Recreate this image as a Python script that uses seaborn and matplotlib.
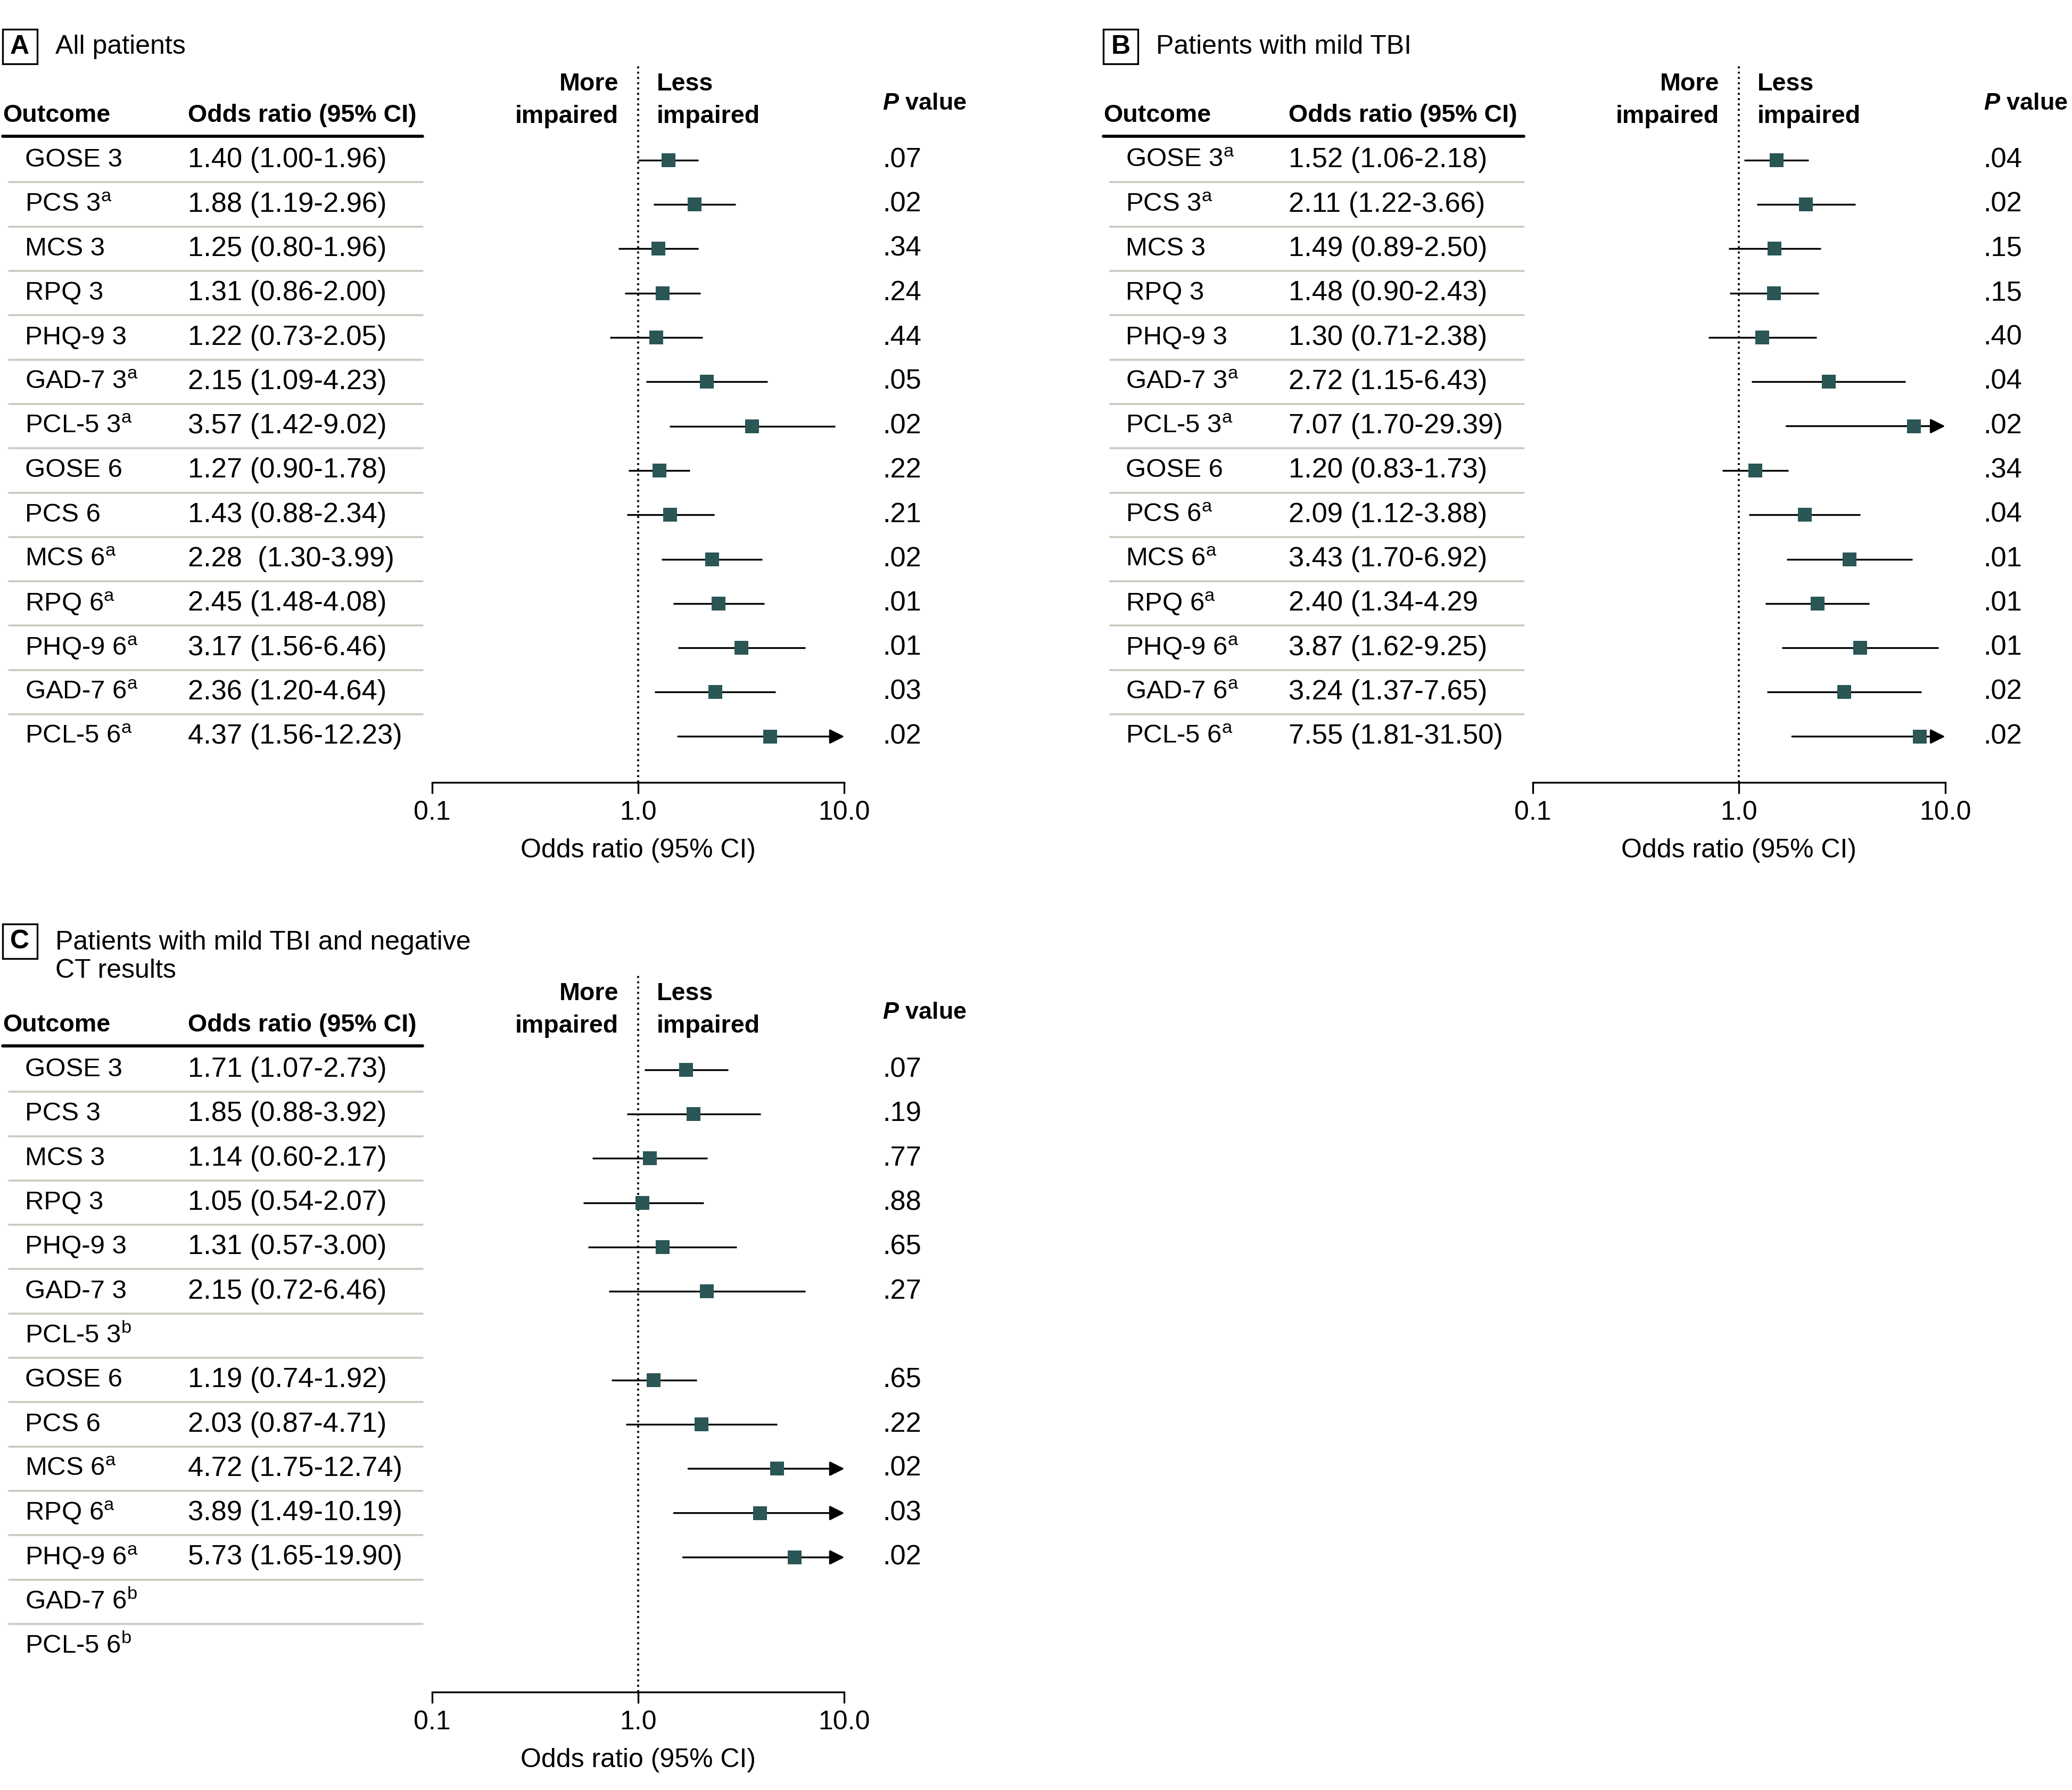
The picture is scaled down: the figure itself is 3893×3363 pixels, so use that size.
import numpy as np
import seaborn as sns
import matplotlib.pyplot as plt
from matplotlib.lines import Line2D
from matplotlib.patches import Rectangle
from matplotlib.transforms import blended_transform_factory

sns.set_style('white')
plt.rcParams['font.family'] = ['Liberation Sans', 'DejaVu Sans']
plt.rcParams['mathtext.fontset'] = 'custom'
plt.rcParams['mathtext.rm'] = 'Liberation Sans'
plt.rcParams['mathtext.it'] = 'Liberation Sans:italic:bold'
plt.rcParams['mathtext.bf'] = 'Liberation Sans:bold'
plt.rcParams['text.color'] = 'black'
plt.rcParams['xtick.color'] = 'black'
plt.rcParams['axes.labelcolor'] = 'black'

SA = r'$^\mathregular{a}$'
SB = r'$^\mathregular{b}$'

# ---- data ----
labels_a = ['GOSE 3', 'PCS 3' + SA, 'MCS 3', 'RPQ 3', 'PHQ-9 3', 'GAD-7 3' + SA, 'PCL-5 3' + SA,
            'GOSE 6', 'PCS 6', 'MCS 6' + SA, 'RPQ 6' + SA, 'PHQ-9 6' + SA, 'GAD-7 6' + SA, 'PCL-5 6' + SA]
or_a = [1.40, 1.88, 1.25, 1.31, 1.22, 2.15, 3.57, 1.27, 1.43, 2.28, 2.45, 3.17, 2.36, 4.37]
lo_a = [1.00, 1.19, 0.80, 0.86, 0.73, 1.09, 1.42, 0.90, 0.88, 1.30, 1.48, 1.56, 1.20, 1.56]
hi_a = [1.96, 2.96, 1.96, 2.00, 2.05, 4.23, 9.02, 1.78, 2.34, 3.99, 4.08, 6.46, 4.64, 12.23]
ci_a = ['1.40 (1.00-1.96)', '1.88 (1.19-2.96)', '1.25 (0.80-1.96)', '1.31 (0.86-2.00)',
        '1.22 (0.73-2.05)', '2.15 (1.09-4.23)', '3.57 (1.42-9.02)', '1.27 (0.90-1.78)',
        '1.43 (0.88-2.34)', '2.28  (1.30-3.99)', '2.45 (1.48-4.08)', '3.17 (1.56-6.46)',
        '2.36 (1.20-4.64)', '4.37 (1.56-12.23)']
p_a = ['.07', '.02', '.34', '.24', '.44', '.05', '.02', '.22', '.21', '.02', '.01', '.01', '.03', '.02']

labels_b = ['GOSE 3' + SA, 'PCS 3' + SA, 'MCS 3', 'RPQ 3', 'PHQ-9 3', 'GAD-7 3' + SA, 'PCL-5 3' + SA,
            'GOSE 6', 'PCS 6' + SA, 'MCS 6' + SA, 'RPQ 6' + SA, 'PHQ-9 6' + SA, 'GAD-7 6' + SA, 'PCL-5 6' + SA]
or_b = [1.52, 2.11, 1.49, 1.48, 1.30, 2.72, 7.07, 1.20, 2.09, 3.43, 2.40, 3.87, 3.24, 7.55]
lo_b = [1.06, 1.22, 0.89, 0.90, 0.71, 1.15, 1.70, 0.83, 1.12, 1.70, 1.34, 1.62, 1.37, 1.81]
hi_b = [2.18, 3.66, 2.50, 2.43, 2.38, 6.43, 29.39, 1.73, 3.88, 6.92, 4.29, 9.25, 7.65, 31.50]
ci_b = ['1.52 (1.06-2.18)', '2.11 (1.22-3.66)', '1.49 (0.89-2.50)', '1.48 (0.90-2.43)',
        '1.30 (0.71-2.38)', '2.72 (1.15-6.43)', '7.07 (1.70-29.39)', '1.20 (0.83-1.73)',
        '2.09 (1.12-3.88)', '3.43 (1.70-6.92)', '2.40 (1.34-4.29', '3.87 (1.62-9.25)',
        '3.24 (1.37-7.65)', '7.55 (1.81-31.50)']
p_b = ['.04', '.02', '.15', '.15', '.40', '.04', '.02', '.34', '.04', '.01', '.01', '.01', '.02', '.02']

labels_c = ['GOSE 3', 'PCS 3', 'MCS 3', 'RPQ 3', 'PHQ-9 3', 'GAD-7 3', 'PCL-5 3' + SB,
            'GOSE 6', 'PCS 6', 'MCS 6' + SA, 'RPQ 6' + SA, 'PHQ-9 6' + SA, 'GAD-7 6' + SB, 'PCL-5 6' + SB]
or_c = [1.71, 1.85, 1.14, 1.05, 1.31, 2.15, np.nan, 1.19, 2.03, 4.72, 3.89, 5.73, np.nan, np.nan]
lo_c = [1.07, 0.88, 0.60, 0.54, 0.57, 0.72, np.nan, 0.74, 0.87, 1.75, 1.49, 1.65, np.nan, np.nan]
hi_c = [2.73, 3.92, 2.17, 2.07, 3.00, 6.46, np.nan, 1.92, 4.71, 12.74, 10.19, 19.90, np.nan, np.nan]
ci_c = ['1.71 (1.07-2.73)', '1.85 (0.88-3.92)', '1.14 (0.60-2.17)', '1.05 (0.54-2.07)',
        '1.31 (0.57-3.00)', '2.15 (0.72-6.46)', '', '1.19 (0.74-1.92)', '2.03 (0.87-4.71)',
        '4.72 (1.75-12.74)', '3.89 (1.49-10.19)', '5.73 (1.65-19.90)', '', '']
p_c = ['.07', '.19', '.77', '.88', '.65', '.27', '', '.65', '.22', '.02', '.03', '.02', '', '']

# ---- layout (reference pixel grid 1568 x 1354) ----
W, H = 1568.0, 1354.0
FS = 12
FS_HEAD = 11.2
FS_NUM = 12.6
FS_LAB = 11.8
TEAL = '#2a5656'
SEP = '#c8ccc0'

fig = plt.figure(figsize=(3893 / 300, 3363 / 300), dpi=300)


def draw_panel(x0, y0, letter, title, box_y, labels, est, lo, hi, ci, pv):
    ax = fig.add_axes([(x0 + 327) / W, 1 - (y0 + 592) / H, 312 / W, 542 / H])
    tr = blended_transform_factory(fig.transFigure, ax.transData)
    n = len(labels)
    rows = np.arange(n)
    est, lo, hi = np.array(est), np.array(lo), np.array(hi)

    def fx(px):
        return (x0 + px) / W

    # CI lines and arrows
    for i in rows:
        if np.isnan(est[i]):
            continue
        if hi[i] > 10:
            ax.annotate('', xy=(10, i), xytext=(lo[i], i),
                        arrowprops=dict(arrowstyle='-|>', color='black', lw=0.8,
                                        mutation_scale=14, shrinkA=0, shrinkB=0),
                        annotation_clip=False)
        else:
            ax.hlines(i, lo[i], hi[i], color='black', lw=0.8)
    ok = ~np.isnan(est)
    sns.scatterplot(x=est[ok], y=rows[ok], marker='s', s=40, color=TEAL,
                    linewidth=0, ax=ax, zorder=3)
    ax.axvline(1, ls=':', color='black', lw=0.9)

    ax.set_xscale('log')
    ax.set_xlim(0.1, 10)
    ax.set_ylim(14.04, -2.12)
    ax.set_yticks([])
    ax.set_xticks([0.1, 1, 10])
    ax.set_xticklabels(['0.1', '1.0', '10.0'])
    ax.minorticks_off()
    ax.tick_params(axis='x', bottom=True, direction='out', length=5, width=0.8,
                   pad=3, labelsize=FS)
    sns.despine(ax=ax, left=True)
    ax.spines['bottom'].set_color('black')
    ax.spines['bottom'].set_linewidth(0.8)
    ax.set_xlabel('Odds ratio (95% CI)', fontsize=FS, labelpad=6)

    # title and letter box
    fig.add_artist(Rectangle((fx(2), box_y - 0.39), 26 / W, 0.78, transform=tr,
                             fill=False, lw=0.8, ec='black'))
    ax.text(fx(15), box_y, letter, transform=tr, ha='center', va='center',
            fontsize=FS, fontweight='bold')
    ax.text(fx(42), -2.55, title, transform=tr, ha='left', va='center',
            fontsize=FS, linespacing=1.2)

    # headers
    ax.text(fx(2), -1.0, 'Outcome', transform=tr, ha='left', va='center',
            fontsize=FS_HEAD, fontweight='bold')
    ax.text(fx(142), -1.0, 'Odds ratio (95% CI)', transform=tr, ha='left',
            va='center', fontsize=FS_HEAD, fontweight='bold')
    ax.text(fx(468), -1.35, 'More\nimpaired', transform=tr, ha='right', va='center',
            multialignment='right', fontsize=FS_HEAD, fontweight='bold', linespacing=1.5)
    ax.text(fx(497), -1.35, 'Less\nimpaired', transform=tr, ha='left', va='center',
            multialignment='left', fontsize=FS_HEAD, fontweight='bold', linespacing=1.5)
    ax.text(fx(668), -1.28, r'$\mathit{P}$ value', transform=tr, ha='left',
            va='center', fontsize=10.8, fontweight='bold')
    fig.add_artist(Line2D([fx(2), fx(320)], [-0.54, -0.54], transform=tr,
                          color='black', lw=1.4))

    # table rows
    for i in rows:
        ax.text(fx(19), i, labels[i], transform=tr, ha='left', va='center', fontsize=FS_LAB)
        ax.text(fx(142), i, ci[i], transform=tr, ha='left', va='center', fontsize=FS_NUM)
        ax.text(fx(668), i, pv[i], transform=tr, ha='left', va='center', fontsize=FS_NUM)
        if i < n - 1:
            fig.add_artist(Line2D([fx(7), fx(320)], [i + 0.5, i + 0.5], transform=tr,
                                  color=SEP, lw=0.9))
    return ax


draw_panel(0, 0, 'A', 'All patients', -2.56, labels_a, or_a, lo_a, hi_a, ci_a, p_a)
draw_panel(833, 0, 'B', 'Patients with mild TBI', -2.56, labels_b, or_b, lo_b, hi_b, ci_b, p_b)
draw_panel(0, 688, 'C', 'Patients with mild TBI and negative\nCT results', -2.89,
           labels_c, or_c, lo_c, hi_c, ci_c, p_c)

fig.savefig('out.png', dpi=300, facecolor='white')
